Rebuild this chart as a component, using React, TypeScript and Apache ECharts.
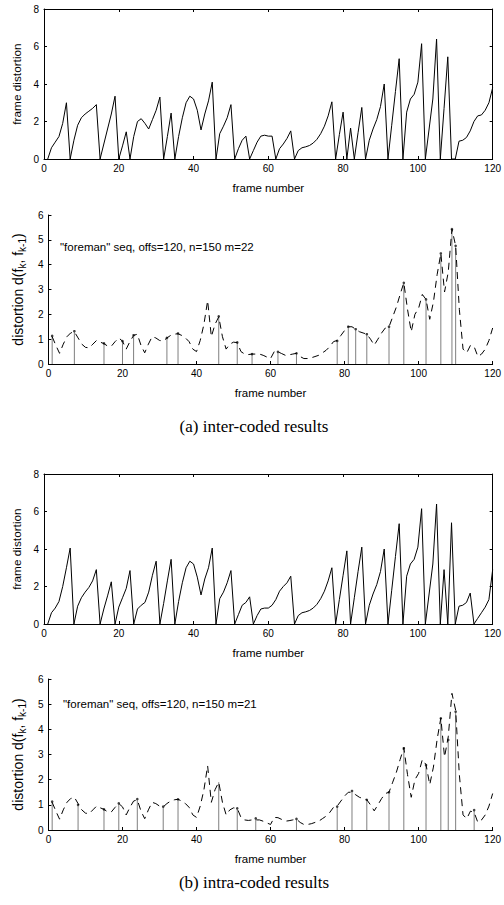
import React, { useEffect, useRef } from "react";
import * as echarts from "echarts";

// ---- data (frame numbers start at 1) ----
const X_TICKS_MAX = 120;

const interFrameDistortion = [
  0, 0.6, 0.9, 1.2, 1.9, 3.0, 0, 1.0, 1.8, 2.2,
  2.4, 2.55, 2.7, 2.9, 0, 0.8, 1.6, 2.4, 3.35, 0,
  0.7, 1.45, 0, 1.2, 2.0, 2.15, 1.9, 1.6, 2.1, 2.6,
  3.3, 0, 1.2, 2.45, 0, 1.2, 2.2, 3.0, 3.35, 3.2,
  2.6, 1.55, 2.4, 3.1, 4.1, 0, 1.35, 1.75, 2.2, 2.9,
  0, 0.55, 1.0, 1.22, 0, 0.45, 0.9, 1.22, 1.27, 1.22,
  1.22, 0, 0.55, 0.8, 1.1, 1.5, 0, 0.45, 0.6, 0.65,
  0.72, 0.85, 1.05, 1.35, 1.75, 2.3, 3.05, 0, 1.3, 2.5,
  0, 1.65, 0, 1.4, 2.75, 0, 1.0, 1.6, 2.1, 2.8,
  4.0, 0, 1.8, 3.6, 5.35, 0, 2.5, 3.2, 3.45, 4.1,
  6.15, 0, 1.6, 3.2, 6.4, 0, 2.7, 5.45, 0, 0,
  0.95, 1.0, 1.15, 1.5, 2.0, 2.3, 2.35, 2.6, 3.0, 3.8,
];

const intraFrameDistortion = [
  0, 0.6, 0.85, 1.2, 2.0, 3.0, 4.05, 0, 0.95, 1.4,
  1.7, 1.95, 2.3, 2.9, 0, 0.8, 1.5, 2.25, 0, 0.9,
  1.4, 1.9, 2.85, 0, 0.8, 1.0, 1.15, 1.7, 2.6, 3.35,
  0, 1.1, 2.3, 3.45, 0, 1.2, 2.2, 3.0, 3.35, 3.2,
  2.5, 1.55, 2.4, 3.0, 4.05, 0, 1.35, 1.7, 2.2, 2.85,
  0, 0.5, 1.0, 1.15, 1.45, 0, 0.45, 0.8, 0.85, 0.85,
  1.0, 1.3, 1.75, 2.0, 2.2, 2.55, 0, 0.45, 0.6, 0.65,
  0.72, 0.85, 1.05, 1.35, 1.75, 2.3, 3.0, 0, 1.3, 2.6,
  3.9, 0, 1.4, 2.8, 4.1, 0, 1.0, 1.6, 2.1, 2.8,
  4.0, 0, 1.8, 3.6, 5.35, 0, 2.55, 3.2, 3.45, 4.1,
  6.15, 0, 1.6, 3.2, 6.4, 0, 2.9, 0, 5.4, 0,
  0.95, 1.0, 1.15, 1.65, 0, 0.3, 0.6, 0.9, 1.3, 2.9,
];

const adjacentDistortion = [
  1.1, 0.75, 0.43, 0.8, 1.1, 1.25, 1.3, 1.05, 0.8, 0.67,
  0.65, 0.8, 0.95, 0.88, 0.82, 0.72, 0.72, 0.9, 1.05, 0.92,
  0.6, 0.9, 1.15, 1.2, 0.75, 0.45, 0.8, 1.1, 1.05, 0.95,
  0.92, 1.05, 1.15, 1.2, 1.22, 1.15, 1.05, 0.9, 0.6, 0.5,
  0.95, 1.6, 2.55, 1.1, 1.6, 1.9, 1.1, 0.6, 0.8, 0.88,
  0.86, 0.5, 0.4, 0.38, 0.4, 0.4, 0.4, 0.35, 0.28, 0.22,
  0.5, 0.49, 0.42, 0.35, 0.37, 0.4, 0.43, 0.3, 0.22, 0.22,
  0.25, 0.3, 0.35, 0.45, 0.55, 0.7, 0.9, 0.95, 1.15, 1.35,
  1.5, 1.5, 1.4, 1.3, 1.25, 1.2, 1.0, 0.76, 1.0, 1.25,
  1.45, 1.5, 1.9, 2.3, 2.8, 3.27, 2.2, 1.3, 2.0, 2.25,
  2.8, 2.6, 1.8, 2.5, 3.6, 4.45, 2.9, 3.7, 5.43, 4.76,
  2.2, 0.6, 0.45, 0.75, 0.7, 0.3, 0.4, 0.6, 0.95, 1.45,
];

const interKeyFrames = [1, 7, 15, 20, 23, 32, 35, 46, 51, 55, 62, 67, 78, 81, 83, 86, 92, 96, 102, 106, 109, 110];
const interKeyValues = [1.13, 1.32, 0.83, 0.92, 1.16, 1.05, 1.23, 1.92, 0.87, 0.4, 0.49, 0.43, 0.93, 1.5, 1.4, 1.2, 1.5, 3.27, 2.6, 4.45, 5.43, 4.76];

const intraKeyFrames = [1, 8, 15, 19, 24, 31, 35, 46, 51, 56, 67, 78, 82, 86, 92, 96, 102, 106, 108, 110, 115];
const intraKeyValues = [1.13, 1.0, 0.82, 1.06, 1.23, 0.93, 1.22, 1.9, 0.86, 0.46, 0.44, 0.93, 1.55, 1.2, 1.5, 3.25, 2.58, 4.44, 3.58, 4.7, 0.79];

const frameAxisTicks = { min: 0, max: X_TICKS_MAX, interval: 20 };
const distortionAxisTicks = { min: 0, max: 8, interval: 2 };
const adjacentAxisTicks = { min: 0, max: 6, interval: 1 };

const annotationA = '"foreman" seq, offs=120, n=150 m=22';
const annotationB = '"foreman" seq, offs=120, n=150 m=21';
const captionA = "(a) inter-coded results";
const captionB = "(b) intra-coded results";

const toPairs = (vals: number[]) => vals.map((v, i) => [i + 1, v]);
const zipPairs = (xs: number[], ys: number[]) => xs.map((x, i) => [x, ys[i]]);

const FONT = "'Liberation Sans', Arial, Helvetica, sans-serif";
const SERIF = "'Liberation Serif', 'Times New Roman', serif";

export default function App() {
  const ref = useRef<HTMLDivElement>(null);

  useEffect(() => {
    document.body.style.margin = "0";
    if (!ref.current) return;
    const chart = echarts.init(ref.current, undefined, { renderer: "svg" });

    const grids = [
      { left: 44, top: 9, width: 452, height: 150 },
      { left: 44, top: 215, width: 452, height: 149 },
      { left: 44, top: 474, width: 452, height: 150 },
      { left: 44, top: 679, width: 452, height: 151 },
    ];

    const axisLine = { show: true, lineStyle: { color: "#000", width: 1 } };
    const tick = { show: true, inside: true, length: 3, lineStyle: { color: "#000" } };
    const label = { color: "#000", fontSize: 10, fontFamily: FONT };

    const xAxes: any[] = [];
    const yAxes: any[] = [];
    grids.forEach((g, i) => {
      const boxed = i === 0 || i === 2;
      xAxes.push({
        type: "value", gridIndex: i, position: "bottom", ...frameAxisTicks,
        axisLine: { ...axisLine, onZero: false }, axisTick: tick, splitLine: { show: false },
        axisLabel: { ...label, margin: 4 },
        name: "frame number", nameLocation: "middle", nameGap: 23,
        nameTextStyle: { color: "#000", fontSize: 11.5, fontFamily: FONT },
      });
      const yT = boxed ? distortionAxisTicks : adjacentAxisTicks;
      const yAx: any = {
        type: "value", gridIndex: i, position: "left", ...yT,
        axisLine: { ...axisLine, onZero: false }, axisTick: tick, splitLine: { show: false },
        axisLabel: { ...label, margin: 5 },
        nameLocation: "middle", nameRotate: 90,
      };
      if (boxed) {
        yAx.name = "frame distortion";
        yAx.nameGap = 13;
        yAx.nameTextStyle = { color: "#000", fontSize: 11.8, fontFamily: FONT };
      } else {
        yAx.name = "distortion d(f{sub|k}, f{sub|k-1})";
        yAx.nameGap = 9;
        yAx.nameTextStyle = {
          color: "#000", fontSize: 14, fontFamily: FONT, lineHeight: 19,
          rich: {
            sub: { fontSize: 10, fontFamily: FONT, color: "#000", verticalAlign: "bottom", lineHeight: 19 },
          },
        };
      }
      yAxes.push(yAx);
      if (boxed) {
        xAxes.push({
          type: "value", gridIndex: i, position: "top", ...frameAxisTicks,
          axisLine: { ...axisLine, onZero: false }, axisTick: tick, splitLine: { show: false },
          axisLabel: { show: false },
        });
        yAxes.push({
          type: "value", gridIndex: i, position: "right", ...yT,
          axisLine: { ...axisLine, onZero: false }, axisTick: tick, splitLine: { show: false },
          axisLabel: { show: false },
        });
      }
    });
    // axis index mapping: grid0 -> x0,y0 ; grid1 -> x2,y2 ; grid2 -> x3,y3 ; grid3 -> x5,y5
    const axisIdx = [0, 2, 3, 5];

    const stemRender = (params: any, api: any) => {
      const x = api.value(0);
      const y = api.value(1);
      const top = api.coord([x, y]);
      const base = api.coord([x, 0]);
      return {
        type: "group",
        children: [
          { type: "line", shape: { x1: base[0], y1: base[1], x2: top[0], y2: top[1] }, style: { stroke: "#7f7f7f", lineWidth: 1 } },
          { type: "circle", shape: { cx: top[0], cy: top[1], r: 1.3 }, style: { fill: "#404040" } },
        ],
      };
    };

    const solid = (data: number[], k: number) => ({
      type: "line", xAxisIndex: axisIdx[k], yAxisIndex: axisIdx[k], data: toPairs(data),
      showSymbol: false, symbol: "none", lineStyle: { color: "#000", width: 1 },
    });
    const dashed = (k: number) => ({
      type: "line", xAxisIndex: axisIdx[k], yAxisIndex: axisIdx[k], data: toPairs(adjacentDistortion),
      showSymbol: false, symbol: "none", lineStyle: { color: "#000", width: 1, type: [7, 5] },
    });
    const stems = (xs: number[], ys: number[], k: number) => ({
      type: "custom", xAxisIndex: axisIdx[k], yAxisIndex: axisIdx[k], data: zipPairs(xs, ys),
      encode: { x: 0, y: 1 }, renderItem: stemRender,
    });

    chart.setOption({
      animation: false,
      backgroundColor: "#fff",
      grid: grids,
      xAxis: xAxes,
      yAxis: yAxes,
      series: [
        solid(interFrameDistortion, 0),
        dashed(1),
        stems(interKeyFrames, interKeyValues, 1),
        solid(intraFrameDistortion, 2),
        dashed(3),
        stems(intraKeyFrames, intraKeyValues, 3),
      ],
      graphic: [
        { type: "text", left: 60, top: 241, style: { text: annotationA, fill: "#000", font: `11.5px ${FONT}` } },
        { type: "text", left: 63, top: 698, style: { text: annotationB, fill: "#000", font: `11.5px ${FONT}` } },
        { type: "text", x: 254, y: 426, style: { text: captionA, fill: "#000", font: `17px ${SERIF}`, textAlign: "center", textVerticalAlign: "middle" } },
        { type: "text", x: 254, y: 882, style: { text: captionB, fill: "#000", font: `17px ${SERIF}`, textAlign: "center", textVerticalAlign: "middle" } },
      ],
    });

    return () => chart.dispose();
  }, []);

  return <div ref={ref} style={{ width: 504, height: 905 }} />;
}
